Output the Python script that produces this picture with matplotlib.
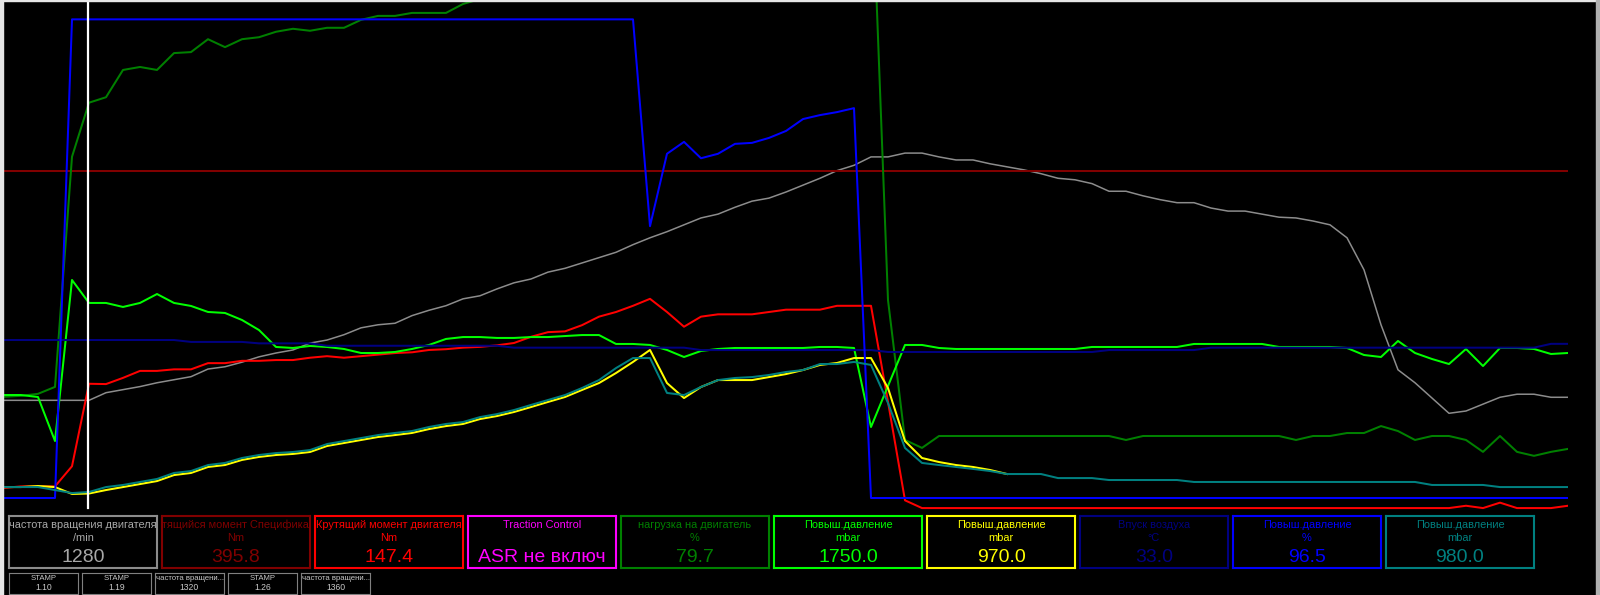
"""
Engine log recorder screenshot: multi-channel trace with readout panels.
Each channel has its own vertical scale, like the diagnostic tool draws it.
"""
import numpy as np
import matplotlib
matplotlib.use("Agg")
import matplotlib.pyplot as plt
from matplotlib.patches import Rectangle

plt.rcParams['font.family'] = ['Liberation Sans', 'DejaVu Sans']

W, H = 1600, 595

# ---- data (one value per logged sample) ----
samples = np.arange(93)
cursor_idx = 5

rpm = [1280, 1280, 1280, 1280, 1280, 1280, 1380, 1420, 1460, 1510,
       1550, 1590, 1690, 1720, 1780, 1850, 1900, 1940, 2030, 2070,
       2140, 2230, 2270, 2290, 2390, 2460, 2520, 2610, 2650, 2740,
       2820, 2870, 2960, 3010, 3080, 3150, 3220, 3320, 3410, 3490,
       3580, 3670, 3720, 3810, 3890, 3930, 4010, 4100, 4190, 4290,
       4360, 4470, 4470, 4520, 4520, 4470, 4430, 4430, 4380, 4340,
       4300, 4250, 4190, 4170, 4120, 4020, 4020, 3960, 3910, 3870,
       3870, 3800, 3760, 3760, 3720, 3680, 3670, 3630, 3580, 3410,
       2990, 2270, 1680, 1510, 1310, 1110, 1140, 1230, 1320, 1360,
       1360, 1320, 1320]

spec_torque = [395.8] * len(samples)

torque = [13, 15, 15, 15, 41, 147.4, 147, 155, 164, 164,
          166, 166, 174, 174, 177, 177, 178, 178, 181, 183,
          181, 183, 185, 187, 188, 191, 192, 194, 195, 197,
          200, 208, 214, 215, 223, 234, 240, 248, 257, 240,
          221, 234, 237, 237, 237, 240, 243, 243, 243, 248,
          248, 248, 124, -3, -13, -13, -13, -13, -13, -13,
          -13, -13, -13, -13, -13, -13, -13, -13, -13, -13,
          -13, -13, -13, -13, -13, -13, -13, -13, -13, -13,
          -13, -13, -13, -13, -13, -13, -10, -13, -6, -13,
          -13, -13, -10]

load = [20.4, 20.6, 21.0, 22.4, 68.8, 79.7, 80.8, 86.3, 86.9, 86.3,
        89.7, 89.9, 92.5, 90.9, 92.5, 92.9, 94.0, 94.6, 94.2, 94.8,
        94.8, 96.4, 97.2, 97.2, 97.8, 97.8, 97.8, 99.6, 100.6, 101,
        102, 101, 103, 102, 104, 103, 104, 105, 104, 105,
        106, 105, 106, 106, 107, 106, 107, 107, 108, 107,
        108, 130, 39.9, 11.7, 10.1, 12.5, 12.5, 12.5, 12.5, 12.5,
        12.5, 12.5, 12.5, 12.5, 12.5, 12.5, 11.7, 12.5, 12.5, 12.5,
        12.5, 12.5, 12.5, 12.5, 12.5, 12.5, 11.7, 12.5, 12.5, 13.1,
        13.1, 14.5, 13.5, 11.7, 12.5, 12.5, 11.7, 9.3, 12.5, 9.3,
        8.5, 9.3, 9.9]

boost_green = [924, 924, 906, 511, 1956, 1750, 1750, 1714, 1750, 1830,
               1750, 1723, 1669, 1660, 1597, 1507, 1355, 1346, 1364, 1355,
               1337, 1301, 1301, 1310, 1337, 1373, 1427, 1444, 1444, 1436,
               1436, 1444, 1444, 1453, 1462, 1462, 1382, 1382, 1373, 1328,
               1265, 1319, 1337, 1346, 1346, 1346, 1346, 1346, 1355, 1355,
               1346, 637, 1005, 1373, 1373, 1346, 1337, 1337, 1337, 1337,
               1337, 1337, 1337, 1337, 1355, 1355, 1355, 1355, 1355, 1355,
               1382, 1382, 1382, 1382, 1382, 1355, 1355, 1355, 1355, 1346,
               1283, 1265, 1409, 1301, 1247, 1202, 1337, 1184, 1346, 1346,
               1337, 1292, 1301]

boost_yellow = [1013, 1013, 1020, 1013, 967, 970, 993, 1013, 1033, 1053,
                1093, 1107, 1147, 1160, 1194, 1214, 1227, 1234, 1247, 1287,
                1307, 1327, 1347, 1360, 1374, 1400, 1420, 1434, 1467, 1487,
                1514, 1547, 1581, 1614, 1661, 1707, 1774, 1848, 1928, 1707,
                1607, 1681, 1727, 1727, 1727, 1747, 1767, 1794, 1828, 1841,
                1874, 1874, 1674, 1320, 1207, 1180, 1160, 1147, 1127, 1100]

intake = [33.0, 33.0, 33.0, 33.0, 33.0, 33.0, 33.0, 33.0, 33.0, 33.0,
          33.0, 32.6, 32.6, 32.6, 32.6, 32.3, 32.3, 32.3, 32.3, 31.8,
          31.8, 31.8, 31.8, 31.8, 31.8, 31.8, 31.8, 31.8, 31.8, 31.8,
          31.4, 31.4, 31.4, 31.4, 31.4, 31.4, 31.4, 31.4, 31.4, 31.4,
          31.4, 30.9, 30.9, 30.9, 30.9, 30.9, 30.9, 30.9, 30.9, 30.9,
          30.9, 30.9, 30.5, 30.5, 30.5, 30.5, 30.5, 30.5, 30.5, 30.5,
          30.5, 30.5, 30.5, 30.5, 30.5, 30.9, 30.9, 30.9, 30.9, 30.9,
          30.9, 31.4, 31.4, 31.4, 31.4, 31.4, 31.4, 31.4, 31.4, 31.4,
          31.4, 31.4, 31.4, 31.4, 31.4, 31.4, 31.4, 31.4, 31.4, 31.4,
          31.4, 32.2, 32.2]

boost_pct = [0, 0, 0, 0, 96.5, 96.5, 96.5, 96.5, 96.5, 96.5,
             96.5, 96.5, 96.5, 96.5, 96.5, 96.5, 96.5, 96.5, 96.5, 96.5,
             96.5, 96.5, 96.5, 96.5, 96.5, 96.5, 96.5, 96.5, 96.5, 96.5,
             96.5, 96.5, 96.5, 96.5, 96.5, 96.5, 96.5, 96.5, 54.8, 69.4,
             71.8, 68.5, 69.4, 71.4, 71.6, 72.6, 74.0, 76.4, 77.2, 77.8,
             78.6, 0, 0, 0, 0, 0, 0, 0, 0, 0,
             0, 0, 0, 0, 0, 0, 0, 0, 0, 0,
             0, 0, 0, 0, 0, 0, 0, 0, 0, 0,
             0, 0, 0, 0, 0, 0, 0, 0, 0, 0,
             0, 0, 0]

boost_teal = [1013, 1013, 1013, 993, 973, 980, 1013, 1027, 1047, 1067,
              1107, 1120, 1160, 1174, 1207, 1227, 1240, 1247, 1260, 1300,
              1320, 1340, 1360, 1374, 1387, 1414, 1434, 1447, 1480, 1500,
              1527, 1561, 1594, 1627, 1674, 1727, 1807, 1874, 1874, 1641,
              1627, 1681, 1727, 1741, 1747, 1761, 1781, 1794, 1834, 1834,
              1848, 1828, 1574, 1274, 1174, 1160, 1147, 1134, 1120, 1100,
              1100, 1100, 1073, 1073, 1073, 1060, 1060, 1060, 1060, 1060,
              1047, 1047, 1047, 1047, 1047, 1047, 1047, 1047, 1047, 1047,
              1047, 1047, 1047, 1047, 1027, 1027, 1027, 1027, 1013, 1013,
              1013, 1013, 1013]

stamp_titles = ["STAMP", "STAMP", "частота вращени...", "STAMP", "частота вращени..."]
stamp_values = ["1.10", "1.19", "1320", "1.26", "1360"]

# channel: title, unit, series, scale lo, scale hi, colour, format
channels = [
    ("частота вращения двигателя", "/min", rpm, 0, 6500, "#8c8c8c", "{:.0f}"),
    ("Крутящийся момент Спецификация", "Nm", spec_torque, 0, 600, "#800000", "{:.1f}"),
    ("Крутящий момент двигателя", "Nm", torque, 0, 640, "#ff0000", "{:.1f}"),
    ("Traction Control", "", None, 0, 1, "#ff00ff", "ASR не включ"),
    ("нагрузка на двигатель", "%", load, 0, 100, "#008000", "{:.1f}"),
    ("Повыш.давление", "mbar", boost_green, 0, 4450, "#00ff00", "{:.1f}"),
    ("Повыш.давление", "mbar", boost_yellow, 940, 4250, "#ffff00", "{:.1f}"),
    ("Впуск воздуха", "°C", intake, 0, 103.6, "#000080", "{:.1f}"),
    ("Повыш.давление", "%", boost_pct, 0, 100, "#0000ff", "{:.1f}"),
    ("Повыш.давление", "mbar", boost_teal, 940, 4250, "#008080", "{:.1f}"),
]


def px_rect(x0, y0, x1, y1):
    """pixel box (origin top-left) -> figure fraction [l, b, w, h]"""
    return [x0 / W, 1 - y1 / H, (x1 - x0) / W, (y1 - y0) / H]


fig = plt.figure(figsize=(W / 100, H / 100), dpi=100, facecolor="black")

# trace area
PLOT_X0, PLOT_X1 = 4, 1568
PLOT_Y0, PLOT_Y1 = 0, 510
SCALE_TOP, SCALE_BOT = 2, 498   # where each channel's hi / lo sit

ax = fig.add_axes(px_rect(PLOT_X0, PLOT_Y0, PLOT_X1, PLOT_Y1))
ax.set_xlim(samples[0], samples[-1])
ax.axis("off")

span = SCALE_BOT - SCALE_TOP
for title, unit, series, lo, hi, colour, fmt in channels:
    if series is None:
        continue
    t = ax.twinx()
    t.axis("off")
    r = (hi - lo) / span
    t.set_ylim(lo - r * (PLOT_Y1 - SCALE_BOT), hi + r * (SCALE_TOP - PLOT_Y0))
    lw = 1.1 if colour == "#8c8c8c" else 1.45
    t.plot(samples[:len(series)], series, color=colour, lw=lw)

# cursor
top = ax.twinx()
top.axis("off")
top.set_ylim(PLOT_Y1, PLOT_Y0)
top.axvline(cursor_idx - 0.06, ymin=(PLOT_Y1 - 508) / (PLOT_Y1 - PLOT_Y0), ymax=1,
            color="white", lw=1.6)

# readout panels
for k, (title, unit, series, lo, hi, colour, fmt) in enumerate(channels):
    x0 = 9 + k * 153
    b = fig.add_axes(px_rect(x0, 516, x0 + 148, 568))
    b.set_facecolor("black")
    b.set_xticks([])
    b.set_yticks([])
    for s in b.spines.values():
        s.set_color(colour)
        s.set_linewidth(1.5)
    txt_col = "#a8a8a8" if k == 0 else colour
    value = fmt if series is None else fmt.format(series[cursor_idx])
    b.text(0.5, 0.83, title, color=txt_col, fontsize=7.9, ha="center", va="center",
           transform=b.transAxes, clip_on=True)
    b.text(0.5, 0.57, unit, color=txt_col, fontsize=7.9, ha="center", va="center",
           transform=b.transAxes, clip_on=True)
    b.text(0.5, 0.2, value, color=txt_col, fontsize=14, ha="center", va="center",
           transform=b.transAxes, clip_on=True)

# stamp markers
for k, (st, sv) in enumerate(zip(stamp_titles, stamp_values)):
    x0 = 9 + k * 73
    s_ax = fig.add_axes(px_rect(x0, 573, x0 + 69, 594))
    s_ax.set_facecolor("black")
    s_ax.set_xticks([])
    s_ax.set_yticks([])
    for s in s_ax.spines.values():
        s.set_color("#808080")
        s.set_linewidth(0.8)
    s_ax.text(0.5, 0.72, st, color="#c8c8c8", fontsize=5.6, ha="center", va="center",
              transform=s_ax.transAxes, clip_on=True)
    s_ax.text(0.5, 0.3, sv, color="#c8c8c8", fontsize=6.2, ha="center", va="center",
              transform=s_ax.transAxes, clip_on=True)

# window frame bits
fig.patches.append(Rectangle((0, 0), 3 / W, 1, transform=fig.transFigure,
                             color="#e6e6e6", zorder=10))
fig.patches.append(Rectangle((0, 1 - 1 / H), 1, 1 / H, transform=fig.transFigure,
                             color="#e6e6e6", zorder=10))
fig.patches.append(Rectangle((1596 / W, 0), 4 / W, 1, transform=fig.transFigure,
                             color="#b0b0b0", zorder=10))

fig.savefig("out.png", dpi=100, facecolor="black")
